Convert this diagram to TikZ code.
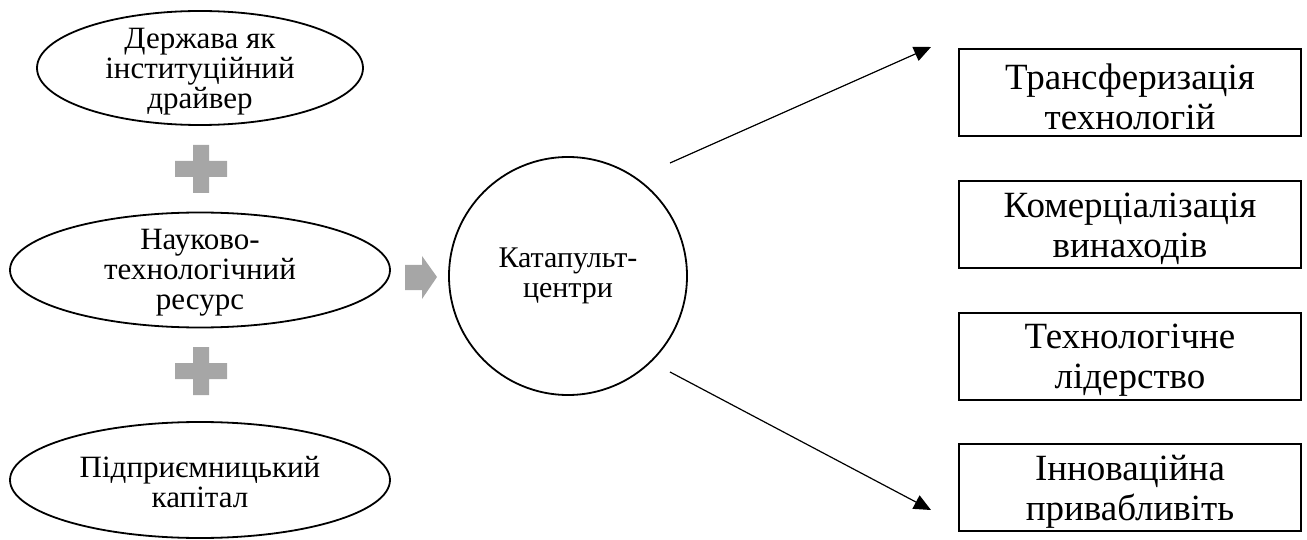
\documentclass[tikz,border=0pt]{standalone}
\usepackage{fontspec}
\setmainfont{Liberation Serif}
\usetikzlibrary{shapes.geometric,arrows.meta}
\tikzset{
  oval/.style={ellipse,draw,line width=1.8pt,inner sep=0pt},
  ovaltext/.style={inner sep=0pt,align=center,font=\fontsize{31}{30}\selectfont},
  rbox/.style={rectangle,draw,line width=2.2pt,minimum width=342pt,minimum height=87pt,inner sep=0pt},
  boxtext/.style={inner sep=0pt,align=center,font=\fontsize{37}{40}\selectfont},
  plusfill/.style={fill=black!35,draw=none},
  conn/.style={line width=1.2pt,-{Triangle[length=17pt,width=15pt]}}
}
\begin{document}
\begin{tikzpicture}[x=1pt,y=-1pt]
\useasboundingbox (0,0) rectangle (1307,540);
\node[oval,minimum width=326pt,minimum height=114pt] (e1) at (200,68) {};
\node[ovaltext] (e1t) at (200,72) {Держава як\\інституційний\\драйвер};
\node[oval,minimum width=380pt,minimum height=115pt] (e2) at (200,270) {};
\node[ovaltext] (e2t) at (200,273) {Науково-\\технологічний\\ресурс};
\node[oval,minimum width=380pt,minimum height=116pt] (e3) at (200,480) {};
\node[ovaltext] (e3t) at (200,482) {Підприємницький\\капітал};
\foreach \cy/\nm in {169/p1,371/p2}{
  \fill[plusfill] (175,\cy-8) -- (193,\cy-8) -- (193,\cy-24) -- (209,\cy-24) -- (209,\cy-8) -- (227,\cy-8)
     -- (227,\cy+8) -- (209,\cy+8) -- (209,\cy+24) -- (193,\cy+24) -- (193,\cy+8) -- (175,\cy+8) -- cycle;
}
\fill[plusfill] (405,265) -- (422,265) -- (422,256) -- (437,277) -- (422,299) -- (422,290) -- (405,290) -- cycle;
\node[circle,draw,line width=1.8pt,minimum size=238pt,inner sep=0pt,align=center,font=\fontsize{30}{30}\selectfont] (c) at (568,276) {Катапульт-\\центри};
\node[rbox] (b1) at (1130,92.5) {};
\node[boxtext] (b1t) at (1130,96.5) {Трансферизація\\технологій};
\node[rbox] (b2) at (1130,224.5) {};
\node[boxtext] (b2t) at (1130,228.5) {Комерціалізація\\винаходів};
\node[rbox] (b3) at (1130,356.5) {};
\node[boxtext] (b3t) at (1130,360.5) {Технологічне\\лідерство};
\node[rbox] (b4) at (1130,487.5) {};
\node[boxtext] (b4t) at (1130,491.5) {Інноваційна\\привабливіть};
\coordinate (s1) at (670,163);
\coordinate (t1) at (931,47);
\coordinate (s2) at (670,372);
\coordinate (t2) at (931,510);
\draw[conn] (s1) -- (t1);
\draw[conn] (s2) -- (t2);
\end{tikzpicture}
\end{document}
